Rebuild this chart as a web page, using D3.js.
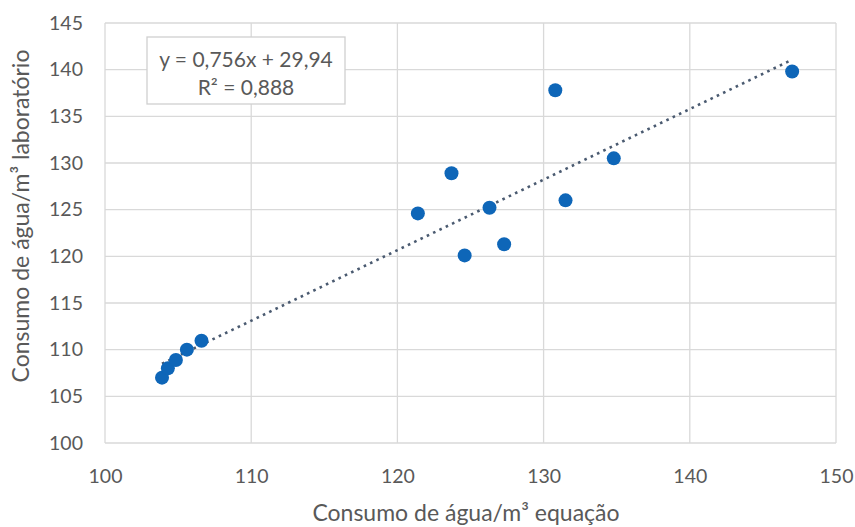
<!DOCTYPE html>
<html>
<head>
<meta charset="utf-8">
<script src="https://cdn.jsdelivr.net/npm/d3@7"></script>
<style>
  body { margin: 0; background: #fff; }
  text { font-family: Lato, "Open Sans", sans-serif; fill: #595959; }
</style>
</head>
<body>
<div class="chart"></div>
<script>
// values
const equacao     = [103.9, 104.3, 104.85, 105.6, 106.6, 121.4, 123.7, 124.6, 126.3, 127.3, 130.8, 131.5, 134.8, 147.0];
const laboratorio = [107.0, 108.0, 108.9, 110.0, 110.95, 124.6, 128.9, 120.1, 125.2, 121.3, 137.8, 126.0, 130.5, 139.8];
const xTicks = [100, 110, 120, 130, 140, 150];
const yTicks = [100, 105, 110, 115, 120, 125, 130, 135, 140, 145];
const trendSlope = 0.756, trendIntercept = 29.94;
const trendLabels = ["y = 0,756x + 29,94", "R\u00b2 = 0,888"];

const margin = {top: 23, right: 19, bottom: 84, left: 105};
const width = 855 - margin.left - margin.right;
const height = 527 - margin.top - margin.bottom;

let svg = d3.select(".chart").append("svg")
    .attr("width", 855)
    .attr("height", 527);

let g = svg.append("g")
    .attr("transform", "translate(" + margin.left + "," + margin.top + ")");

let x = d3.scaleLinear().domain([100, 150]).range([0, width]);
let y = d3.scaleLinear().domain([100, 145]).range([height, 0]);

// gridlines
g.append("g").selectAll("line")
    .data(yTicks)
    .enter().append("line")
    .attr("x1", 0).attr("x2", width)
    .attr("y1", d => y(d)).attr("y2", d => y(d))
    .attr("stroke", "#d9d9d9").attr("stroke-width", 1.3);

g.append("g").selectAll("line")
    .data(xTicks)
    .enter().append("line")
    .attr("y1", 0).attr("y2", height)
    .attr("x1", d => x(d)).attr("x2", d => x(d))
    .attr("stroke", "#d9d9d9").attr("stroke-width", 1.3);

// axes (labels only)
let xAxis = g.append("g")
    .attr("transform", "translate(0," + height + ")")
    .call(d3.axisBottom(x).tickValues(xTicks).tickSize(0).tickPadding(26));
let yAxis = g.append("g")
    .call(d3.axisLeft(y).tickValues(yTicks).tickSize(0).tickPadding(22));
[xAxis, yAxis].forEach(a => {
    a.select(".domain").remove();
    a.selectAll("text").style("font-size", "19.5px").attr("fill", "#595959")
        .style("font-family", "Lato, 'Open Sans', sans-serif");
});

// trendline
let x0 = d3.min(equacao), x1 = d3.max(equacao);
g.append("line")
    .attr("x1", x(x0)).attr("y1", y(trendSlope * x0 + trendIntercept))
    .attr("x2", x(x1)).attr("y2", y(trendSlope * x1 + trendIntercept))
    .attr("stroke", "#4a5a70")
    .attr("stroke-width", 2.6)
    .attr("stroke-dasharray", "2.6,4.4");

// points
g.append("g").selectAll("circle")
    .data(equacao.map((d, i) => [d, laboratorio[i]]))
    .enter().append("circle")
    .attr("cx", d => x(d[0]))
    .attr("cy", d => y(d[1]))
    .attr("r", 7)
    .attr("fill", "#0e66b8");

// equation label box
let box = svg.append("g").attr("transform", "translate(147,37)");
box.append("rect")
    .attr("width", 198).attr("height", 67)
    .attr("fill", "#fff").attr("stroke", "#d0d0d0").attr("stroke-width", 1.3);
box.selectAll("text")
    .data(trendLabels)
    .enter().append("text")
    .attr("x", 99).attr("y", (d, i) => 30 + i * 28)
    .attr("text-anchor", "middle")
    .style("font-size", "21px")
    .text(d => d);

// axis titles
svg.append("text")
    .attr("x", 466).attr("y", 521)
    .attr("text-anchor", "middle")
    .style("font-size", "23px")
    .text("Consumo de água/m³ equação");

svg.append("text")
    .attr("transform", "translate(29,216) rotate(-90)")
    .attr("text-anchor", "middle")
    .style("font-size", "23px")
    .text("Consumo de água/m³ laboratório");
</script>
</body>
</html>
